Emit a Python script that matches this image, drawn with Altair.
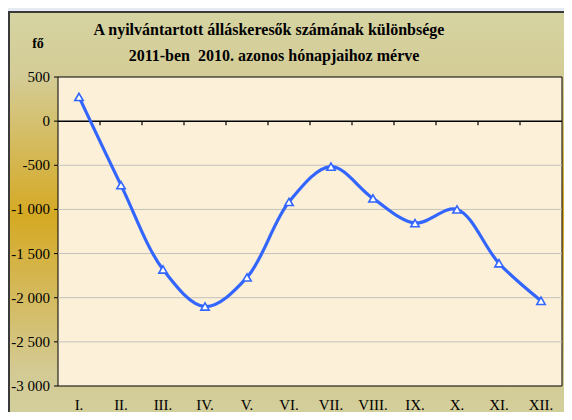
import altair as alt
import pandas as pd

months = ["I.", "II.", "III.", "IV.", "V.", "VI.", "VII.", "VIII.", "IX.", "X.", "XI.", "XII."]
values = [275, -725, -1680, -2100, -1770, -915, -515, -875, -1155, -1000, -1610, -2035]
y_ticks = [500, 0, -500, -1000, -1500, -2000, -2500, -3000]
grid_values = [-500, -1000, -1500, -2000, -2500]
title_lines = ["A nyilvántartott álláskeresők számának különbsége",
               "2011-ben \u00a02010. azonos hónapjaihoz mérve"]
y_title = "fő"

W, H = 504, 309
FONT = "Liberation Serif"
BLUE = "#3366ff"

df = pd.DataFrame({"pos": [i + 0.5 for i in range(len(months))],
                   "month": months, "value": values})
ytick_df = pd.DataFrame({"v": y_ticks,
                         "label": [f"{v:,}".replace(",", " ") for v in y_ticks]})
grid_df = pd.DataFrame({"g": grid_values})
bound_df = pd.DataFrame({"b": list(range(1, len(months))), "z": [0] * (len(months) - 1)})
zero_df = pd.DataFrame({"z": [0]})
one = alt.Data(values=[{"a": 1}])

xscale = alt.Scale(domain=[0, len(months)], nice=False, zero=False)
yscale = alt.Scale(domain=[-3000, 500], nice=False, zero=False)

frame = alt.Chart(one).mark_rect(
    fill=alt.LinearGradient(
        gradient="linear",
        stops=[alt.GradientStop(color="#d5d4a2", offset=0),
               alt.GradientStop(color="#d4cc96", offset=0.15),
               alt.GradientStop(color="#d5a923", offset=0.48),
               alt.GradientStop(color="#d3ca94", offset=0.85),
               alt.GradientStop(color="#d3d2a0", offset=1)],
        x1=0, x2=0, y1=0, y2=1),
    stroke="#3a3a3a", strokeWidth=2,
).encode(x=alt.value(-49), x2=alt.value(W + 30), y=alt.value(-65), y2=alt.value(H + 50))

plotbg = alt.Chart(one).mark_rect(fill="#fcf0d8", stroke="black", strokeWidth=1).encode(
    x=alt.value(0), x2=alt.value(W), y=alt.value(0), y2=alt.value(H))

grid = alt.Chart(grid_df).mark_rule(color="#c4c2bd", strokeWidth=1).encode(
    y=alt.Y("g:Q", scale=yscale, axis=None))

zero = alt.Chart(zero_df).mark_rule(color="black", strokeWidth=1.5).encode(
    y=alt.Y("z:Q", scale=yscale, axis=None))

zticks = alt.Chart(bound_df).mark_rule(color="black", strokeWidth=1.2, y2Offset=4).encode(
    x=alt.X("b:Q", scale=xscale, axis=None),
    y=alt.Y("z:Q", scale=yscale, axis=None), y2=alt.Y2("z"))

yticks = alt.Chart(ytick_df).mark_rule(color="black", strokeWidth=1).encode(
    y=alt.Y("v:Q", scale=yscale, axis=None), x=alt.value(-4), x2=alt.value(0))

ylabels = alt.Chart(ytick_df).mark_text(
    font=FONT, fontSize=15, color="black", align="right", baseline="middle", dx=-8
).encode(y=alt.Y("v:Q", scale=yscale, axis=None), x=alt.value(0), text="label:N")

xlabels = alt.Chart(df).mark_text(
    font=FONT, fontSize=15, color="black", align="center", baseline="middle"
).encode(x=alt.X("pos:Q", scale=xscale, axis=None), y=alt.value(H + 19), text="month:N")

ytitle = alt.Chart(alt.Data(values=[{"t": y_title}])).mark_text(
    font=FONT, fontSize=14, fontWeight="bold", color="black", align="center", baseline="middle"
).encode(x=alt.value(-20), y=alt.value(-33), text="t:N")

title1 = alt.Chart(alt.Data(values=[{"t": title_lines[0]}])).mark_text(
    font=FONT, fontSize=16, fontWeight="bold", color="black", align="center", baseline="middle"
).encode(x=alt.value(211), y=alt.value(-47), text="t:N")

title2 = alt.Chart(alt.Data(values=[{"t": title_lines[1]}])).mark_text(
    font=FONT, fontSize=16, fontWeight="bold", color="black", align="center", baseline="middle"
).encode(x=alt.value(216), y=alt.value(-21), text="t:N")

base = alt.Chart(df).encode(
    x=alt.X("pos:Q", scale=xscale, axis=None),
    y=alt.Y("value:Q", scale=yscale, axis=None),
)

line = base.mark_line(color=BLUE, strokeWidth=3.2, interpolate="catmull-rom")
pts = base.mark_point(shape="triangle-up", filled=True, fill="white", stroke=BLUE,
                      strokeWidth=1.6, size=70, opacity=1)

chart = alt.layer(frame, plotbg, grid, zero, zticks, yticks, ylabels, xlabels,
                  ytitle, title1, title2, line, pts).properties(
    width=W, height=H,
    autosize=alt.AutoSizeParams(type="none"),
    padding={"left": 50, "top": 69, "right": 2, "bottom": 26},
    background="#e6ebf3",
).configure_view(stroke=None)

chart.save("out.html", embed_options={"renderer": "svg", "actions": False})
